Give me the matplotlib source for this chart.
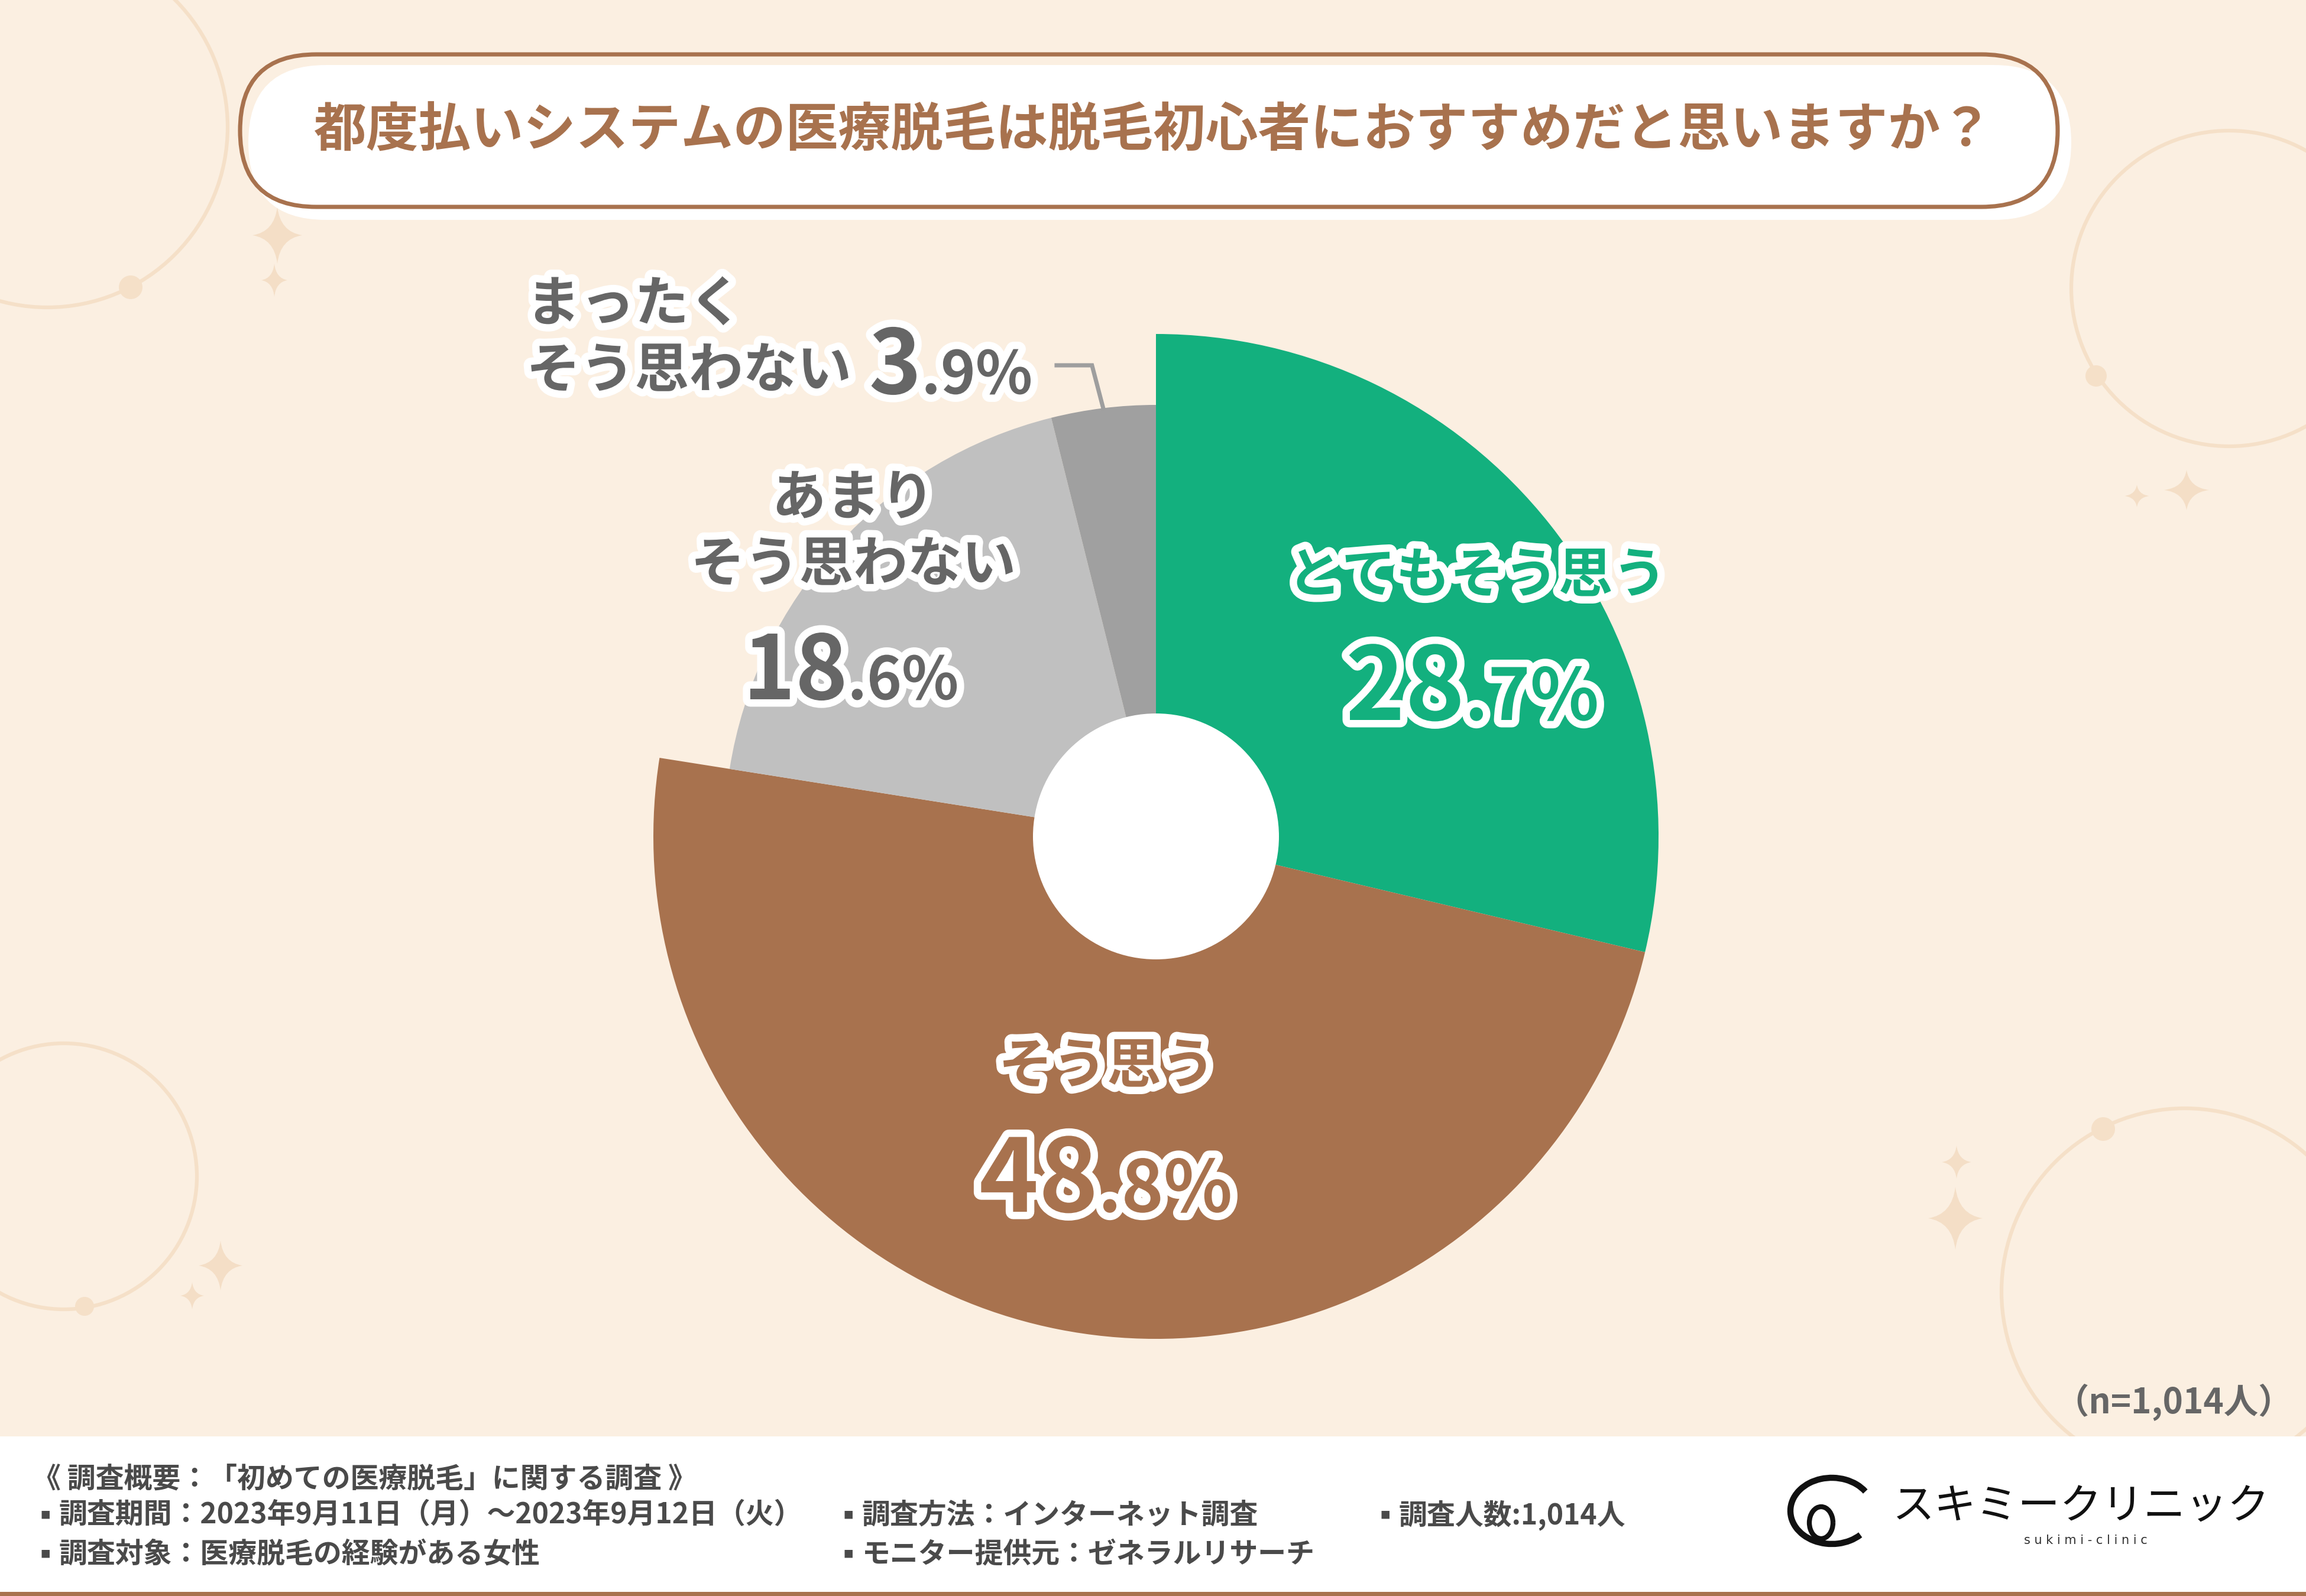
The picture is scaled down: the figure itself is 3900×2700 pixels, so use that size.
import matplotlib
matplotlib.use("Agg")
import matplotlib.pyplot as plt
import matplotlib.patheffects as pe
from matplotlib.patches import FancyBboxPatch, Circle, Rectangle, PathPatch, Arc
from matplotlib.path import Path
import numpy as np

plt.rcParams['font.family'] = ['Noto Sans CJK JP', 'DejaVu Sans']

# ---- data ----
title = "都度払いシステムの医療脱毛は脱毛初心者におすすめだと思いますか？"
categories = ["とてもそう思う", "そう思う", "あまり\nそう思わない", "まったく\nそう思わない"]
shares = [28.7, 48.8, 18.6, 3.9]
slice_colors = ["#13B07E", "#A8724E", "#C0C0C0", "#A0A0A0"]
label_colors = ["#13B07E", "#A8724E", "#666666", "#666666"]
sample_note = "（n=1,014人）"
footer_head = "《 調査概要：「初めての医療脱毛」に関する調査 》"
footer_col1 = ["調査期間：2023年9月11日（月）～2023年9月12日（火）", "調査対象：医療脱毛の経験がある女性"]
footer_col2 = ["調査方法：インターネット調査", "モニター提供元：ゼネラルリサーチ"]
footer_col3 = ["調査人数:1,014人"]
brand = "スキミークリニック"
brand_sub = "s u k i m i - c l i n i c"

# ---- style / layout ----
BG = "#FBEFE1"
DECO = "#F5E0C8"
BROWN = "#A8724E"
W, H = 3900, 2700
cx, cy = 1955, 1415
r_outer, r_gray, r_hole = 850, 730, 208

fig = plt.figure(figsize=(13, 9), dpi=300)
fig.patch.set_facecolor(BG)
ax = fig.add_axes([0, 0, 1, 1])
ax.set_facecolor(BG)
ax.set_xlim(0, W)
ax.set_ylim(H, 0)


def sparkle(x, y, hw, hh, c=0.12):
    pts = [(0, -1), (c, -c), (1, 0), (c, c), (0, 1), (-c, c), (-1, 0), (-c, -c), (0, -1), (0, -1)]
    codes = [Path.MOVETO] + [Path.CURVE3] * 8 + [Path.CLOSEPOLY]
    verts = [(x + px * hw, y + py * hh) for px, py in pts]
    ax.add_patch(PathPatch(Path(verts, codes), fc="#F4DEC6", ec="none", zorder=1))


# background ornaments
for (ox, oy, rr), (dx, dy, dr) in [((80, 215, 305), (221, 486, 20)),
                                   ((3770, 488, 267), (3545, 636, 18)),
                                   ((108, 1990, 225), (143, 2210, 16)),
                                   ((3695, 2185, 310), (3557, 1910, 20))]:
    ax.add_patch(Circle((ox, oy), rr, fill=False, ec=DECO, lw=1.5, zorder=1))
    ax.add_patch(Circle((dx, dy), dr, fc=DECO, ec="none", zorder=1))

for s in [(469, 398, 42, 48), (464, 474, 22, 28), (3698, 829, 38, 34), (3614, 839, 21, 19),
          (3307, 2061, 46, 53), (3309, 1966, 25, 28), (373, 2141, 37, 42), (325, 2192, 20, 23)]:
    sparkle(*s)

# title box
ax.add_patch(FancyBboxPatch((420, 110), 3083, 262, boxstyle="round,pad=0,rounding_size=131",
                            fc="white", ec="none", zorder=2))
ax.add_patch(FancyBboxPatch((406, 92), 3074, 258, boxstyle="round,pad=0,rounding_size=129",
                            fc="none", ec=BROWN, lw=1.7, zorder=3))
ax.text(1951, 222, title, fontsize=21.3, fontweight="bold", color=BROWN,
        ha="center", va="center", zorder=4)

# donut (y axis is flipped, so counterclockwise in data = clockwise on screen)
wedges, _ = ax.pie(shares, colors=slice_colors, startangle=270, counterclock=True,
                   center=(cx, cy), radius=r_outer, wedgeprops=dict(linewidth=0, zorder=3))
for w in wedges[2:]:
    w.set_radius(r_gray)
ax.add_patch(Circle((cx, cy), r_hole, fc="white", ec="none", zorder=4))
ax.set_aspect("auto")
ax.set_xlim(0, W)
ax.set_ylim(H, 0)
ax.axis("off")

# leader line for the smallest slice
w = wedges[3]
mid = np.deg2rad((w.theta1 + w.theta2) / 2)
sx, sy = cx + r_gray * np.cos(mid), cy + r_gray * np.sin(mid)
ax.plot([sx, sx - 19, 1787], [sy, 618, 618], color="#9E9E9E", lw=1.7, zorder=3,
        solid_joinstyle="miter")

stroke = [pe.withStroke(linewidth=6, foreground="white")]


def outlined(x, y, s, size, color, ha="center", va="center", **kw):
    t = ax.text(x, y, s, fontsize=size, fontweight="bold", color=color, ha=ha, va=va,
                zorder=6, **kw)
    t.set_path_effects(stroke)
    return t


# label layout: name position/alignment, number centre x / baseline, font sizes
label_layout = [
    dict(xy=(2498, 975), ha="center", nx=2490, ny=1218, big=41, small=29),
    dict(xy=(1872, 1805), ha="center", nx=1870, ny=2050, big=41, small=29),
    dict(xy=(1443, 900), ha="center", nx=1439, ny=1183, big=36, small=24),
    dict(xy=(890, 572), ha="left", nx=1608, ny=666, big=36, small=24),
]

renderer = fig.canvas.get_renderer()
inv = ax.transData.inverted()
for name, val, col, lay in zip(categories, shares, label_colors, label_layout):
    outlined(lay["xy"][0], lay["xy"][1], name, 22, col, ha=lay["ha"],
             multialignment=lay["ha"], linespacing=1.25)
    whole, frac = f"{val:.1f}".split(".")
    t1 = outlined(lay["nx"], lay["ny"], whole, lay["big"], col, ha="right", va="baseline")
    t2 = outlined(lay["nx"], lay["ny"], "." + frac + "%", lay["small"], col, ha="left",
                  va="baseline")
    # shift both parts so the whole number is centred on nx
    x0 = inv.transform(t1.get_window_extent(renderer).p0)[0]
    x1 = inv.transform(t2.get_window_extent(renderer).p1)[0]
    shift = lay["nx"] - (x0 + x1) / 2
    for t in (t1, t2):
        t.set_x(lay["nx"] + shift)

ax.text(3878, 2373, sample_note, fontsize=14, fontweight="bold", color="#666666",
        ha="right", va="center", zorder=5)

# footer
ax.add_patch(Rectangle((0, 2430), W, 263, fc="white", ec="none", zorder=7))
ax.add_patch(Rectangle((0, 2693), W, 7, fc=BROWN, ec="none", zorder=7))
foot_kw = dict(fontsize=11.5, fontweight="bold", color="#4A4A4A", va="center", ha="left", zorder=8)
ax.text(55, 2502, footer_head, **foot_kw)
for col_x, lines in [(67, footer_col1), (1425, footer_col2), (2333, footer_col3)]:
    for i, line in enumerate(lines):
        y = 2563 + i * 66
        ax.text(col_x, y, "▪", fontsize=6.5, color="#4A4A4A", va="center", ha="left", zorder=8,
                family=["DejaVu Sans"])
        ax.text(col_x + 33, y, line, **foot_kw)

# logo
ax.add_patch(Arc((3098, 2556), 140, 112, theta1=40, theta2=330, color="#111111", lw=2.5, zorder=8))
ax.add_patch(Arc((3080, 2576), 40, 54, theta1=0, theta2=360, color="#111111", lw=2.0, zorder=8))
ax.text(3520, 2549, brand, fontsize=17, color="#111111", ha="center", va="center", zorder=8)
ax.text(3527, 2606, brand_sub, fontsize=5, color="#333333", ha="center", va="center",
        family=["DejaVu Sans"], zorder=8)

fig.savefig("out.png", dpi=300, facecolor=BG)
